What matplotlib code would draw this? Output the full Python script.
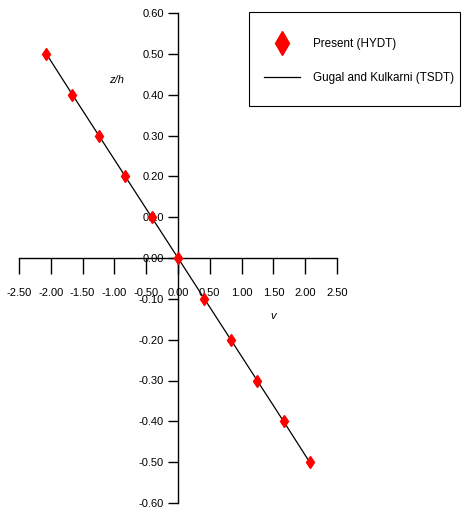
import matplotlib.pyplot as plt
from matplotlib.patches import Rectangle

plt.rcParams['font.family'] = ['Liberation Sans', 'DejaVu Sans']

# data
v_present = [-2.07, -1.66, -1.245, -0.83, -0.415, 0.0, 0.415, 0.83, 1.245, 1.66, 2.07]
zh_present = [0.5, 0.4, 0.3, 0.2, 0.1, 0.0, -0.1, -0.2, -0.3, -0.4, -0.5]
v_tsdt = [-2.07, -1.66, -1.245, -0.83, -0.415, 0.0, 0.415, 0.83, 1.245, 1.66, 2.07]
zh_tsdt = [0.5, 0.4, 0.3, 0.2, 0.1, 0.0, -0.1, -0.2, -0.3, -0.4, -0.5]

xticks = [-2.5, -2.0, -1.5, -1.0, -0.5, 0.0, 0.5, 1.0, 1.5, 2.0, 2.5]
yticks = [-0.6, -0.5, -0.4, -0.3, -0.2, -0.1, 0.0, 0.1, 0.2, 0.3, 0.4, 0.5, 0.6]

W, H = 464, 513
fig = plt.figure(figsize=(W / 100, H / 100), dpi=100)
ax = fig.add_axes([19 / W, 1 - 503 / H, 318 / W, 490 / H])

ax.plot(v_present, zh_present, 'd', color='red', markersize=6, label='Present (HYDT)', zorder=3)
ax.plot(v_tsdt, zh_tsdt, 'k-', linewidth=0.9, label='Gugal and Kulkarni (TSDT)')

ax.set_xlim(-2.5, 2.5)
ax.set_ylim(-0.6, 0.6)

# axes crossing at the origin
ax.spines['left'].set_position(('data', 0))
ax.spines['bottom'].set_position(('data', 0))
ax.spines['right'].set_visible(False)
ax.spines['top'].set_visible(False)
for s in ('left', 'bottom'):
    ax.spines[s].set_linewidth(1.0)

ax.set_xticks(xticks)
ax.set_xticklabels([f'{t:.2f}' for t in xticks])
ax.set_yticks(yticks)
ax.set_yticklabels([f'{t:.2f}' for t in yticks])
ax.tick_params(axis='x', direction='out', length=11.5, width=1, pad=10, labelsize=8)
ax.tick_params(axis='y', direction='out', length=7, width=1, pad=3, labelsize=8)

ax.text(-0.97, 0.436, 'z/h', style='italic', fontsize=8, ha='center', va='center')
ax.text(1.49, -0.142, 'v', style='italic', fontsize=8, ha='center', va='center')

# legend box drawn separately so its size matches the reference
fig.patches.append(Rectangle((249 / W, 1 - 106 / H), 211 / W, 94 / H,
                             transform=fig.transFigure, fill=False,
                             edgecolor='black', linewidth=0.8))
fig.legend(loc='upper left', bbox_to_anchor=(249 / W, 1 - 23 / H),
           bbox_transform=fig.transFigure, fontsize=8.4, markerscale=2.0,
           frameon=False, handlelength=3.1, borderpad=1.3, labelspacing=1.85,
           handletextpad=1.1, borderaxespad=0)

fig.savefig('out.png', dpi=100)
